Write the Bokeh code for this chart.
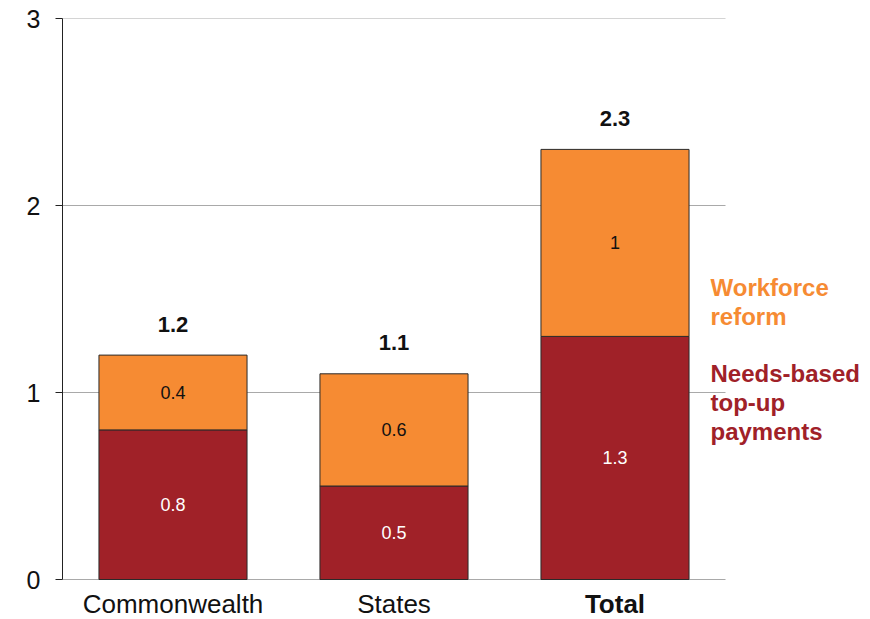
from bokeh.plotting import figure
from bokeh.models import Range1d, FixedTicker, Label, ColumnDataSource
from bokeh.embed import file_html
from bokeh.resources import INLINE

# Funding split (billions) by government level
categories = ["Commonwealth", "States", "Total"]
needs_based = [0.8, 0.5, 1.3]
workforce = [0.4, 0.6, 1.0]
totals = [1.2, 1.1, 2.3]
y_ticks = [0, 1, 2, 3]

ORANGE = "#F68B33"
RED = "#A02128"
FONT = "Liberation Sans"

# canvas and chart-area geometry (pixels)
W, H = 870, 619
LEFT, TOP = 62, 18
AREA_RIGHT, AREA_BOTTOM = 725, 579
n = len(categories)
y_max = 3
px_per_y = (AREA_BOTTOM - TOP) / y_max
px_per_x = (AREA_RIGHT - LEFT) / n

# the frame spans the whole canvas right of the axis so annotations outside
# the bar area (category names, series names) are not clipped
x_end = (W - LEFT) / px_per_x
y_start = -(H - AREA_BOTTOM) / px_per_y

p = figure(width=W, height=H, output_backend="svg", toolbar_location=None,
           x_range=Range1d(0, x_end), y_range=Range1d(y_start, y_max),
           min_border_left=LEFT, min_border_right=0,
           min_border_top=TOP, min_border_bottom=0)
p.outline_line_color = None
p.xaxis.visible = False
p.xgrid.visible = False
p.ygrid.visible = False

yax = p.yaxis[0]
yax.bounds = (0, y_max)
yax.ticker = FixedTicker(ticks=y_ticks)
yax.axis_line_color = "#222222"
yax.major_tick_line_color = "#222222"
yax.major_tick_out = 7
yax.major_tick_in = 0
yax.minor_tick_line_color = None
yax.major_label_text_font = FONT
yax.major_label_text_font_size = "25px"
yax.major_label_text_color = "#111111"
yax.major_label_standoff = 15

# horizontal gridlines across the bar area only
p.segment(x0=[0] * len(y_ticks), x1=[n] * len(y_ticks), y0=y_ticks, y1=y_ticks,
          line_color="#A9A9A9", line_width=1)

xs = [i + 0.5 for i in range(n)]
src = ColumnDataSource(dict(
    x=xs,
    nb=needs_based,
    wf_bottom=needs_based,
    wf_top=[a + b for a, b in zip(needs_based, workforce)],
))
bar_w = 0.67
p.vbar(x="x", bottom=0, top="nb", width=bar_w, source=src,
       fill_color=RED, line_color="#2a2a2a", line_width=1)
p.vbar(x="x", bottom="wf_bottom", top="wf_top", width=bar_w, source=src,
       fill_color=ORANGE, line_color="#2a2a2a", line_width=1)

# segment value labels
for x, nb, wf in zip(xs, needs_based, workforce):
    p.add_layout(Label(x=x, y=nb / 2, text=f"{nb:g}", text_align="center",
                       text_baseline="middle", text_font=FONT,
                       text_font_size="18px", text_color="white"))
    p.add_layout(Label(x=x, y=nb + wf / 2, text=f"{wf:g}", text_align="center",
                       text_baseline="middle", text_font=FONT,
                       text_font_size="18px", text_color="#111111"))

# totals above each bar
for x, t in zip(xs, totals):
    p.add_layout(Label(x=x, y=t + 31 / px_per_y, text=f"{t:g}",
                       text_align="center", text_baseline="middle",
                       text_font=FONT, text_font_size="22px",
                       text_font_style="bold", text_color="#111111"))

# category names under the bars
for x, c in zip(xs, categories):
    p.add_layout(Label(x=x, y=-24 / px_per_y, text=c, text_align="center",
                       text_baseline="middle", text_font=FONT,
                       text_font_size="26px", text_color="#111111",
                       text_font_style="bold" if c == "Total" else "normal"))

# series names on the right
legend_x = (710 - LEFT) / px_per_x
series_lines = [
    (["Workforce", "reform"], ORANGE, 292),
    (["Needs-based", "top-up", "payments"], RED, 206),
]
for lines, color, first_mid in series_lines:
    for k, line in enumerate(lines):
        mid_px = first_mid - 29 * k
        p.add_layout(Label(x=legend_x, y=mid_px / px_per_y, text=line,
                           text_align="left", text_baseline="middle",
                           text_font=FONT, text_font_size="24px",
                           text_font_style="bold", text_color=color))

open("out.html", "w").write(file_html(p, INLINE))
